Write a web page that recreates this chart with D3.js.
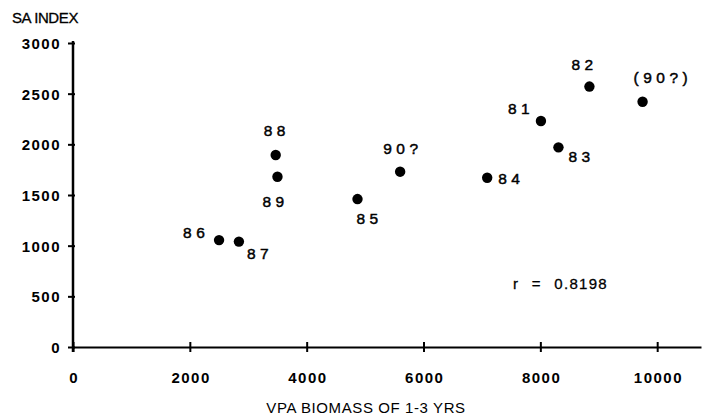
<!DOCTYPE html>
<html>
<head>
<meta charset="utf-8">
<script src="https://cdn.jsdelivr.net/npm/d3@7"></script>
<style>
  html, body { margin: 0; padding: 0; background: #fff; }
  svg { display: block; }
  text { font-family: "Liberation Sans", Arial, Helvetica, sans-serif; fill: #000; }
</style>
</head>
<body>
<svg id="chart" width="706" height="415"></svg>
<script>
// ---- data ----
const pointLabels = ["81", "82", "83", "84", "85", "86", "87", "88", "89", "90?", "(90?)"];
const vpaBiomass  = [8010, 8840, 8310, 7090, 4870, 2500, 2840, 3470, 3500, 5600, 9750];
const saIndex     = [2230, 2570, 1970, 1670, 1460, 1055, 1040, 1895, 1680, 1730, 2420];
const xTicks = [0, 2000, 4000, 6000, 8000, 10000];
const yTicks = [0, 500, 1000, 1500, 2000, 2500, 3000];
const correlationText = "r = 0.8198";
const xTitle = "VPA BIOMASS OF 1-3 YRS";
const yTitle = "SA INDEX";
// label placement relative to each point (layout only)
const labelDx = [-33, -18, 10, 11, -1, -36, 8, -12, -15, -17, -9];
const labelDy = [-7, -17, 15, 6, 25, -2, 17, -19, 30, -18, -19];

// ---- chart ----
const svg = d3.select("#chart");
const x = d3.scaleLinear().domain([0, 10750]).range([73, 701]);
const y = d3.scaleLinear().domain([0, 3000]).range([347, 43]);

// x axis
const gx = svg.append("g").attr("transform", `translate(0,${y(0)})`)
  .call(d3.axisBottom(x).tickValues(xTicks).tickSize(5).tickSizeOuter(0).tickFormat(d3.format("d")));
gx.select(".domain").attr("stroke", "#000").attr("stroke-width", 2);
gx.selectAll(".tick line").attr("y1", -5).attr("y2", 5).attr("stroke", "#000").attr("stroke-width", 2);
gx.selectAll(".tick text")
  .attr("y", 36).attr("dy", 0)
  .style("font-size", "15px").style("font-weight", "bold").style("letter-spacing", "1.5px")
  .attr("dx", "0.75px");

// y axis
const gy = svg.append("g").attr("transform", `translate(${x(0)},0)`)
  .call(d3.axisLeft(y).tickValues(yTicks).tickSize(5).tickSizeOuter(0).tickFormat(d3.format("d")));
gy.select(".domain").attr("stroke", "#000").attr("stroke-width", 2.5)
  .attr("d", `M0,${y(3000) - 2}V${y(0) + 5}`);
gy.selectAll(".tick line").attr("x1", -5).attr("x2", 2).attr("stroke", "#000").attr("stroke-width", 2);
gy.selectAll(".tick text")
  .attr("x", -12).attr("dy", "0.36em")
  .style("font-size", "15px").style("font-weight", "bold").style("letter-spacing", "1.5px");

// titles
svg.append("text").attr("x", 12).attr("y", 23).text(yTitle)
  .style("font-size", "15px").style("letter-spacing", "-0.4px")
  .attr("stroke", "#000").attr("stroke-width", 0.3);
svg.append("text").attr("x", 366).attr("y", 413).attr("text-anchor", "middle").text(xTitle)
  .style("font-size", "15px").style("letter-spacing", "0.6px");

// points
const pts = pointLabels.map((lab, i) => ({ lab, xv: vpaBiomass[i], yv: saIndex[i], dx: labelDx[i], dy: labelDy[i] }));
svg.append("g").selectAll("circle").data(pts).join("circle")
  .attr("cx", d => x(d.xv)).attr("cy", d => y(d.yv)).attr("r", 5.2).attr("fill", "#000");

svg.append("g").selectAll("text").data(pts).join("text")
  .attr("x", d => x(d.xv) + d.dx).attr("y", d => y(d.yv) + d.dy)
  .text(d => d.lab)
  .style("font-size", "15.5px").style("letter-spacing", "4.5px")
  .attr("stroke", "#000").attr("stroke-width", 0.45);

// correlation annotation
svg.append("text").attr("x", 513).attr("y", 289).text(correlationText)
  .style("font-size", "15px").style("letter-spacing", "1.3px").style("word-spacing", "7px")
  .attr("stroke", "#000").attr("stroke-width", 0.3);
</script>
</body>
</html>
